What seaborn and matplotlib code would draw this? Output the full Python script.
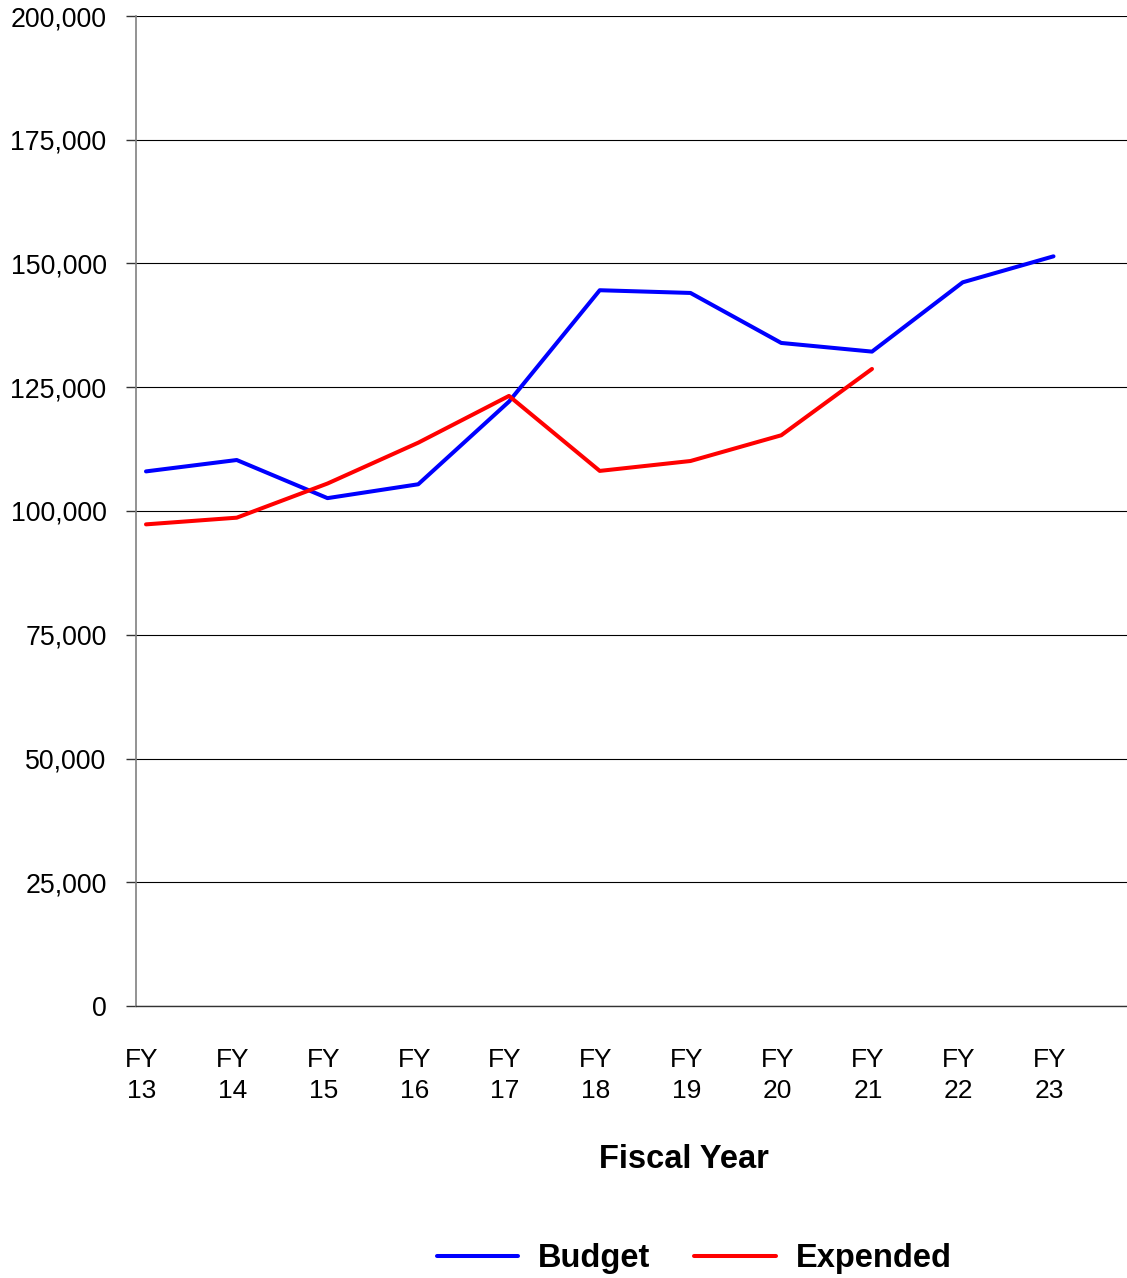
import numpy as np
import pandas as pd
import matplotlib
matplotlib.use("Agg")
import matplotlib.pyplot as plt
import matplotlib.ticker as mticker
import seaborn as sns

# data
years = ["FY\n13", "FY\n14", "FY\n15", "FY\n16", "FY\n17", "FY\n18",
         "FY\n19", "FY\n20", "FY\n21", "FY\n22", "FY\n23"]
budget = [108000, 110300, 102600, 105400, 122100, 144600,
          144050, 133950, 132200, 146200, 151450]
expended = [97300, 98650, 105550, 113800, 123250, 108100,
            110100, 115300, 128700, np.nan, np.nan]
series_names = ["Budget", "Expended"]
series_colors = ["#0000FF", "#FF0000"]

df = pd.DataFrame({"pos": np.arange(len(years)), "Budget": budget, "Expended": expended})
long_df = df.melt(id_vars="pos", var_name="series", value_name="value").dropna()

sns.set_style("white")
plt.rcParams["font.family"] = ["Liberation Sans", "DejaVu Sans"]
plt.rcParams["text.color"] = "black"
plt.rcParams["axes.labelcolor"] = "black"
plt.rcParams["xtick.color"] = "black"
plt.rcParams["ytick.color"] = "black"

fig = plt.figure(figsize=(11.27, 12.78), dpi=100)
W, H = 1127, 1278
ax = fig.add_axes([136 / W, 1 - 1006 / H, (1127 - 136) / W, 990 / H])

sns.lineplot(data=long_df, x="pos", y="value", hue="series", hue_order=series_names,
             palette=series_colors, linewidth=2.9, ax=ax, legend=True)

# axes ranges / ticks
ax.set_ylim(0, 200000)
ax.set_xlim(-0.11, 10.81)
ax.yaxis.set_major_locator(mticker.MultipleLocator(25000))
ax.yaxis.set_major_formatter(mticker.FuncFormatter(lambda v, p: f"{v:,.0f}"))
ax.grid(axis="y", color="black", linewidth=0.8)
ax.grid(axis="x", visible=False)
ax.set_axisbelow(True)

ax.set_xticks(np.arange(len(years)) - 0.045)
ax.set_xticklabels(years, linespacing=1.4)
ax.set_xticks(np.arange(len(years)) - 0.11, minor=True)
ax.tick_params(axis="x", which="major", length=0, pad=30, labelsize=19)
ax.tick_params(axis="x", which="minor", length=7.2, width=1, color="#555555", direction="out")
ax.tick_params(axis="y", length=7.2, width=1, color="#333333", direction="out",
               left=True, pad=14, labelsize=19.3)

for s in ["top", "right"]:
    ax.spines[s].set_visible(False)
ax.spines["left"].set_color("#808080")
ax.spines["left"].set_linewidth(1.2)
ax.spines["bottom"].set_color("#333333")
ax.spines["bottom"].set_linewidth(1)

ax.set_ylabel("")
ax.set_xlabel("Fiscal Year", fontsize=23.5, fontweight="bold")
ax.xaxis.set_label_coords((684 - 136) / 991, -(1160 - 1006) / 990)
ax.xaxis.label.set_va("center")

# legend below the chart
handles, labels = ax.get_legend_handles_labels()
ax.get_legend().remove()
fig.legend(handles, labels, loc="center", bbox_to_anchor=(694 / W, 1 - 1259 / H),
           ncol=2, frameon=False, prop={"size": 23.5, "weight": "bold"},
           handlelength=2.5, handletextpad=0.6, columnspacing=1.35, borderpad=0)

fig.savefig("out.png", dpi=100)
